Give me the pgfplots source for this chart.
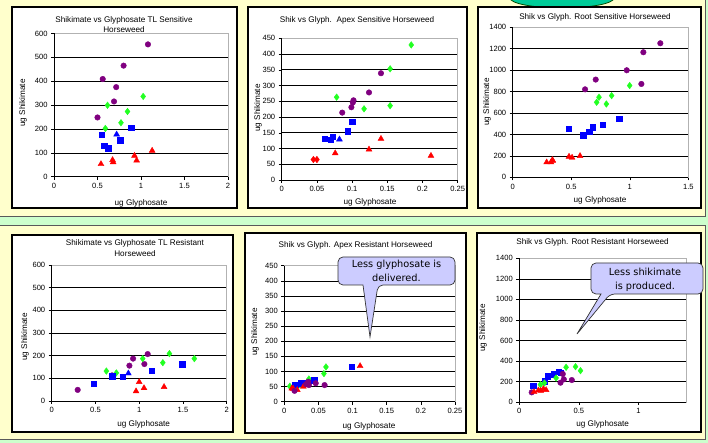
\documentclass[border=0pt]{standalone}
\usepackage{pgfplots}
\pgfplotsset{compat=1.18}
\usepackage{fontspec}
\setmainfont{Liberation Sans}
\newfontfamily\callfont{DejaVu Sans}
\definecolor{bggreen}{HTML}{CCFFCC}
\definecolor{bgyellow}{HTML}{FFFFCC}
\definecolor{teal1}{HTML}{00CC99}
\definecolor{cpurple}{HTML}{800080}
\definecolor{cgreen}{HTML}{22FF22}
\definecolor{cblue}{HTML}{0000FF}
\definecolor{cred}{HTML}{FF0000}
\definecolor{callout}{HTML}{CCCCFF}
\pgfplotsset{
  panel/.style={scale only axis, anchor=south west, xmin=0, ymin=0,
    axis line style={draw=gray!60, line width=0.5pt},
    ymajorgrids, grid style={black, line width=0.6pt},
    tick align=outside, xtick pos=bottom, ytick pos=left, major tick length=3bp,
    tick style={black, line width=0.5pt},
    ticklabel style={font=\fontsize{7.6}{8.5}\selectfont},
    /pgf/number format/assume math mode=true,
    /pgf/number format/1000 sep={},
    /pgf/number format/fixed,
    scaled ticks=false, clip=false,
    after end axis/.code={\draw[black, line width=0.7pt] (rel axis cs:0,1) -- (rel axis cs:0,0) -- (rel axis cs:1,0);},
  },
  pp/.style={only marks, mark=*, mark size=2.8pt, color=cpurple, mark options={fill=cpurple, draw=cpurple}},
  gg/.style={only marks, mark=diamond*, mark size=3.3pt, color=cgreen, mark options={fill=cgreen, draw=cgreen}},
  bb/.style={only marks, mark=square*, mark size=2.7pt, color=cblue, mark options={fill=cblue, draw=cblue}},
  bt/.style={only marks, mark=triangle*, mark size=3.4pt, color=cblue, mark options={fill=cblue, draw=cblue}},
  rt/.style={only marks, mark=triangle*, mark size=3.4pt, color=cred, mark options={fill=cred, draw=cred}},
  rd/.style={only marks, mark=diamond*, mark size=3.3pt, color=cred, mark options={fill=cred, draw=cred}},
}
\begin{document}
\begin{tikzpicture}
\begin{scope}[x=1bp,y=1bp]
\useasboundingbox (0,0) rectangle (708,443);
\begin{scope}
\clip (0,0) rectangle (708,443);
\fill[bggreen] (0,0) rectangle (708,443);
\draw[fill=bgyellow, draw=gray!70!black, line width=0.8pt] (-3,227) rectangle (705,447);
\draw[fill=bgyellow, draw=gray!70!black, line width=0.8pt] (-3,4) rectangle (705,218);
\draw[fill=teal1, draw=black!70!green, line width=0.8pt] (562,445) ellipse [x radius=52, y radius=10];
\end{scope}
% panels
\draw[fill=white, line width=1.1pt] (12,235) rectangle (237,436);
\draw[fill=white, line width=1.1pt] (248,235) rectangle (467,436);
\draw[fill=white, line width=1.1pt] (478,235) rectangle (701,436);
\draw[fill=white, line width=1.1pt] (12,11) rectangle (233,208);
\draw[fill=white, line width=1.1pt] (245,10) rectangle (466,210);
\draw[fill=white, line width=1.1pt] (477,11) rectangle (701,210);
\end{scope}

% Panel 1
\begin{axis}[panel, at={(54bp,266.3bp)}, width=174bp, height=143.3bp,
  xmax=2, ymax=600, xtick={0,0.5,1,1.5,2}, ytick={0,100,...,600}]
\addplot[pp] coordinates {(1.08,554) (0.80,465) (0.56,409) (0.715,375) (0.69,315) (0.50,248)};
\addplot[gg] coordinates {(1.025,336) (0.615,299) (0.845,273) (0.77,226) (0.59,202)};
\addplot[bb] coordinates {(0.887,205) (0.547,177) (0.577,130) (0.623,120) (0.76,153)};
\addplot[bt] coordinates {(0.72,177)};
\addplot[rt] coordinates {(1.128,109) (0.925,88) (0.95,68) (0.673,70) (0.68,61) (0.54,53)};
\end{axis}

% Panel 2
\begin{axis}[panel, at={(281.7bp,263bp)}, width=176bp, height=141.7bp,
  xmax=0.25, ymax=450, xtick={0,0.05,0.1,0.15,0.2,0.25}, ytick={0,50,...,450}]
\addplot[gg] coordinates {(0.184,429) (0.154,353) (0.154,236) (0.117,226) (0.078,263)};
\addplot[pp] coordinates {(0.141,339) (0.124,278) (0.102,253) (0.101,246) (0.099,231) (0.086,214)};
\addplot[bb] coordinates {(0.100,186) (0.094,155) (0.072,137) (0.070,128) (0.061,131)};
\addplot[bt] coordinates {(0.082,129)};
\addplot[rt] coordinates {(0.141,131) (0.124,97) (0.076,85) (0.212,77)};
\addplot[rd] coordinates {(0.045,65) (0.050,65)};
\end{axis}

% Panel 3
\begin{axis}[panel, at={(512.7bp,265.7bp)}, width=175.6bp, height=150bp,
  xmax=1.5, ymax=1400, xtick={0,0.5,1,1.5}, ytick={0,200,...,1400}]
\addplot[pp] coordinates {(1.261,1251) (1.116,1167) (0.974,999) (1.099,871) (0.709,912) (0.618,821)};
\addplot[gg] coordinates {(0.999,856) (0.845,762) (0.737,747) (0.717,700) (0.80,684)};
\addplot[bb] coordinates {(0.908,544) (0.771,492) (0.683,467) (0.652,423) (0.601,392) (0.478,451)};
\addplot[rt] coordinates {(0.575,199) (0.507,184) (0.481,193) (0.339,162) (0.327,140) (0.290,140) (0.342,155)};
\end{axis}

% Panel 4
\begin{axis}[panel, at={(51.7bp,42bp)}, width=175bp, height=136bp,
  xmax=2, ymax=600, xtick={0,0.5,1,1.5,2}, ytick={0,100,...,600}]
\addplot[pp] coordinates {(0.297,49) (0.69,113) (0.888,156) (0.93,187) (1.097,207) (1.059,163)};
\addplot[gg] coordinates {(0.625,132) (0.739,124) (1.04,187) (1.27,169) (1.345,209) (1.63,187)};
\addplot[bb] coordinates {(0.48,75) (0.693,109) (0.808,106) (1.143,134) (1.49,163)};
\addplot[bt] coordinates {(0.876,122)};
\addplot[rt] coordinates {(1.0,84) (0.964,43) (1.055,57) (1.284,62)};
\end{axis}

% Panel 5
\begin{axis}[panel, at={(284.3bp,41.3bp)}, width=170.7bp, height=136bp,
  xmax=0.25, ymax=450, xtick={0,0.05,0.1,0.15,0.2,0.25}, ytick={0,50,...,450}]
\addplot[gg] coordinates {(0.061,115) (0.058,93) (0.036,75) (0.023,55) (0.008,51)};
\addplot[bb] coordinates {(0.099,116) (0.044,71) (0.034,63) (0.025,61) (0.016,57)};
\addplot[rt] coordinates {(0.111,118) (0.028,50) (0.019,39) (0.013,43) (0.011,44)};
\addplot[pp] coordinates {(0.059,55) (0.046,61) (0.036,55) (0.032,58) (0.015,36) (0.035,66)};
\end{axis}

% Panel 6
\begin{axis}[panel, at={(519.3bp,41bp)}, width=166.7bp, height=143.7bp,
  xmax=1.4, ymax=1400, xtick={0,0.5,1}, ytick={0,200,...,1400}]
\addplot[bb] coordinates {(0.118,156) (0.213,201) (0.236,253) (0.289,269) (0.329,295) (0.348,286)};
\addplot[gg] coordinates {(0.177,169) (0.211,185) (0.309,234) (0.393,338) (0.472,344) (0.514,305)};
\addplot[pp] coordinates {(0.104,94) (0.365,273) (0.374,221) (0.346,188) (0.441,214)};
\addplot[rt] coordinates {(0.124,97) (0.16,114) (0.202,127) (0.225,117) (0.180,110)};
\end{axis}

\begin{scope}[x=1bp,y=1bp]
% titles
\begin{scope}[every node/.style={font=\fontsize{8.2}{10.5}\selectfont, align=center}]
\node at (124,418.5) {Shikimate vs Glyphosate TL Sensitive\\Horseweed};
\node at (357,423) {Shik vs Glyph.\ \ Apex Sensitive Horseweed};
\node at (595,426) {Shik vs Glyph. Root Sensitive Horseweed};
\node at (135,195) {Shikimate vs Glyphosate TL Resistant\\Horseweed};
\node at (355.5,198) {Shik vs Glyph. Apex Resistant Horseweed};
\node at (592.5,200.3) {Shik vs Glyph. Root Resistant Horseweed};
% x labels
\node at (141,240) {ug Glyphosate};
\node at (370,241) {ug Glyphosate};
\node at (600,243) {ug Glyphosate};
\node at (143.7,19) {ug Glyphosate};
\node at (369,17) {ug Glyphosate};
\node at (602.7,19) {ug Glyphosate};
% y labels
\node[rotate=90] at (23,340) {ug Shikimate};
\node[rotate=90] at (258,335) {ug Shikimate};
\node[rotate=90] at (487,341) {ug Shikimate};
\node[rotate=90] at (25,106) {ug Shikimate};
\node[rotate=90] at (255,111) {ug Shikimate};
\node[rotate=90] at (483,115) {ug Shikimate};
\end{scope}

% callouts
\draw[fill=callout, draw=black!80, line width=0.7pt, rounded corners=5]
  (338,186) -- (455,186) -- (455,158) -- (378,158) [sharp corners] -- (370,106) -- (363,158) [rounded corners=5] -- (338,158) -- cycle;
\node[font=\callfont\fontsize{9.8}{14}\selectfont, align=center] at (396.5,172) {Less glyphosate is\\delivered.};
\draw[fill=callout, draw=black!80, line width=0.7pt, rounded corners=5]
  (591,180) -- (703,180) -- (703,149) -- (610,149) [sharp corners] -- (577,109) -- (601,149) [rounded corners=5] -- (591,149) -- cycle;
\node[font=\callfont\fontsize{9.8}{14}\selectfont, align=center] at (645,163.5) {Less shikimate\\is produced.};
\end{scope}
\end{tikzpicture}
\end{document}
